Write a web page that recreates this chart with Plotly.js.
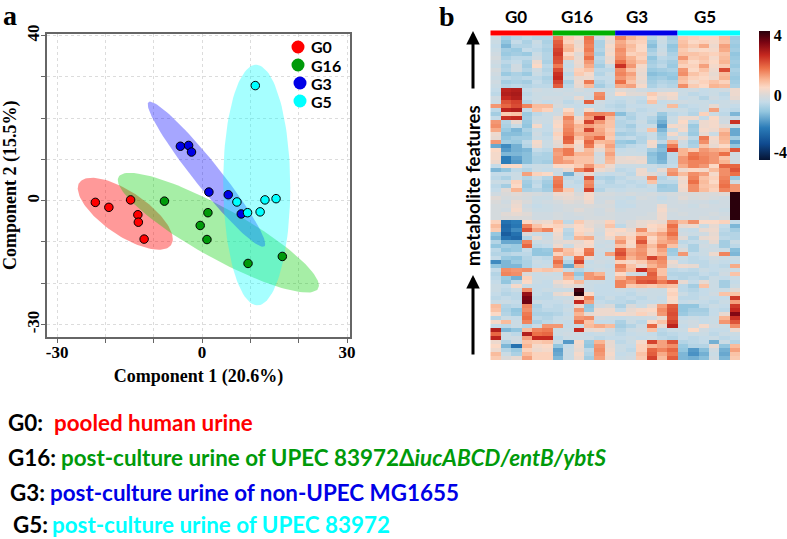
<!DOCTYPE html>
<html><head><meta charset="utf-8">
<script src="https://cdn.plot.ly/plotly-3.0.1.min.js"></script>
<style>html,body{margin:0;padding:0;background:#fff}#c{width:787px;height:539px}</style>
</head><body><div id="c"></div>
<script>
const groups = ['G0','G16','G3','G5'];
const scoreColors = ['#ff0000','#009a0a','#0000e6','#00ffff'];
const barColors = ['#ff0000','#00b000','#0000e6','#00ffff'];
const ellipseFills = ['rgba(255,0,0,0.4)','rgba(0,205,0,0.35)','rgba(0,0,255,0.35)','rgba(0,255,255,0.35)'];

const comp1G0 = [-22.1,-19.3,-14.8,-13.3,-13.2,-12.0];
const comp2G0 = [-0.4,-1.6,0.2,-3.4,-5.2,-9.3];
const comp1G16 = [-7.8,1.2,-0.4,1.0,9.5,16.6];
const comp2G16 = [-0.1,-2.9,-6.0,-9.4,-15.2,-13.5];
const comp1G3 = [-4.5,-2.8,-2.2,1.4,5.4,8.1];
const comp2G3 = [13.2,13.4,11.8,2.1,1.45,-3.2];
const comp1G5 = [11.0,7.2,13.0,15.3,12.0,9.4];
const comp2G5 = [27.9,-0.3,0.2,0.5,-2.7,-2.9];

// ellipse summary per group: centre, half extents along each axis, correlation
const ellipseCx = [-15.9,3.35,0.9,11.3];
const ellipseCy = [-3.15,-7.75,6.42,3.8];
const ellipseAx = [9.83,20.8,12.15,6.94];
const ellipseAy = [8.72,14.5,17.6,29.15];
const ellipseRho = [-0.705,-0.88,-0.96,-0.02];

const xTickVals = [-30,-20,-10,0,10,20,30];
const xTickText = ['-30','','','0','','','30'];
const yTickVals = [-30,-20,-10,0,10,20,30,40];
const yTickText = ['-30','','','0','','','','40'];

const captionLabels = ['G0:','G16:','G3:','G5:'];
const captionTexts = ['pooled human urine','post-culture urine of UPEC 83972Δ<i>iucABCD/entB/ybtS</i>','post-culture urine of non-UPEC MG1655','post-culture urine of UPEC 83972'];

// heatmap: 81 rows x 24 samples, values in tenths of a unit
const heatRows = [
[-2,-8,-6,-5,-6,-6,16,7,4,17,-3,3,15,10,7,-6,-2,-8,7,6,5,5,9,-9],
[-3,-10,-4,-7,-3,-7,19,6,2,16,-7,2,11,7,6,-9,-3,-7,8,5,6,4,8,-8],
[-4,-12,-6,-6,-4,-6,20,9,3,15,-7,4,12,9,5,-11,-4,-10,9,7,11,3,12,-9],
[-3,-8,-9,-4,-5,-7,22,10,4,16,-6,3,14,8,5,-8,-3,-9,7,4,5,4,11,-8],
[-2,-9,-8,-9,-3,-6,23,5,1,14,-8,4,13,6,7,-6,-2,-7,8,8,7,6,8,-10],
[-1,-7,-5,-5,-2,-6,21,8,2,17,-5,2,14,10,6,-10,-5,-6,13,7,8,4,9,-9],
[-2,-5,-4,-7,3,-7,20,-3,3,13,-6,3,17,11,8,-8,-6,-8,8,5,7,5,10,-8],
[-3,-7,-2,-8,5,-5,16,-4,2,11,-8,-3,24,13,4,-7,-5,-9,6,6,12,4,7,-9],
[-1,-6,-2,-6,-2,-6,21,-2,6,8,-5,-5,14,8,3,-9,-8,-7,13,5,8,3,21,-7],
[-2,-9,-7,-9,-3,-5,24,-5,7,4,-6,-3,15,12,2,-11,-10,-9,14,8,6,2,9,-8],
[-3,-5,-6,-5,-5,-7,25,-3,2,3,-4,-4,13,10,3,-9,-8,-10,9,6,5,3,10,-9],
[-2,-8,-7,-8,-4,-6,22,-7,3,16,-6,-4,17,8,2,-8,-6,-7,8,4,6,8,6,-8],
[-3,-6,-5,-6,-5,-5,19,-5,2,9,-8,-5,11,12,4,-7,-5,-6,14,7,5,10,9,-7],
[-4,26,27,-4,-2,-3,-2,-3,-1,-3,-2,-3,1,0,-2,-4,-2,-2,-3,-2,-4,-3,-2,3],
[-5,27,28,-5,-3,-3,-3,-2,-3,-2,14,-2,5,1,1,7,3,4,-3,-5,-4,-3,-5,3],
[-2,25,27,-4,-3,-2,-2,-3,2,-3,15,-3,-4,-3,-4,5,1,3,-4,-3,-6,-2,-4,2],
[-3,20,22,-6,-2,-4,-2,-5,-3,19,-2,-4,-5,-3,-5,8,-4,-3,-2,-3,-3,-4,-3,-2],
[13,18,21,15,9,9,-1,-3,-4,-4,-3,-5,-6,-4,-4,-3,-3,9,-5,-4,-3,2,-3,-4],
[-5,26,27,-4,8,6,-3,5,-3,4,-3,-4,-5,-3,-5,-4,-2,-3,-3,-5,-3,12,-4,-5],
[-8,7,8,-9,-5,-3,-2,8,-3,15,15,14,-11,-6,-4,-3,-9,-5,-4,-6,6,-3,-5,-12],
[-4,24,25,-8,-3,-3,2,15,3,12,26,9,-5,-7,-4,-6,-11,-3,3,3,-4,5,-2,-4],
[13,-6,2,-9,-2,-3,4,13,6,22,13,8,-6,-5,-3,-7,-13,-3,5,-5,3,4,-2,24],
[14,-7,-3,-10,4,-4,5,14,10,12,10,8,-6,-8,-4,-3,-16,4,3,-9,3,4,1,-3],
[11,-9,-12,-7,-3,-4,3,15,9,22,11,7,-5,-6,-3,8,-12,-3,4,-8,4,3,8,-14],
[3,-11,-11,-9,-2,-5,6,16,11,12,12,8,-8,-7,-5,-3,-9,4,-3,-9,2,-3,11,-14],
[2,-10,-8,-8,-3,-4,4,19,8,14,18,7,-5,-4,-6,-3,-8,-2,2,-5,16,4,10,-8],
[13,-8,-9,-5,4,-3,2,18,5,18,9,10,-9,-10,-6,4,-5,10,-2,-8,14,3,9,-15],
[-14,-18,-13,-6,3,-3,1,8,3,16,6,12,-7,-5,-4,3,-12,16,-3,-7,8,2,5,-10],
[5,-16,-13,-12,-4,-5,13,16,3,9,2,10,-4,-3,-4,-8,-11,22,10,7,13,11,10,20],
[4,-12,-12,-11,-6,-7,12,16,10,10,-2,12,-3,-3,-3,-11,-13,-5,10,16,14,13,17,-2],
[4,-20,-15,-11,-7,-7,13,9,8,8,-1,10,2,3,2,-10,-13,-5,13,17,15,13,8,-2],
[3,-20,-16,-11,-7,-8,13,12,8,8,-1,9,2,2,3,-10,-12,-5,13,15,15,13,10,-2],
[-4,5,5,-4,-3,-3,5,5,7,13,7,3,-3,-3,-3,-3,-5,-4,11,15,13,5,18,18],
[-12,-10,-5,-6,-3,-4,-2,2,15,20,3,1,-5,-4,3,-4,2,12,3,5,4,9,14,20],
[-4,-4,-3,12,6,5,-3,-13,-2,3,-3,-4,-3,-5,3,1,-2,14,9,14,12,4,14,17],
[-5,-7,-3,-6,-3,-6,15,-5,-4,20,-6,-7,-5,-3,-2,14,-6,-3,4,15,8,6,15,-9],
[-3,-3,6,-8,-5,-8,16,-3,-5,14,-4,-6,-4,-5,-4,8,-5,-5,3,17,9,5,16,-2],
[-5,-8,5,-9,-4,-9,17,-4,-4,15,-5,-5,-5,-4,-5,-3,-9,-8,4,14,8,7,17,13],
[-4,1,10,-7,-6,-8,15,7,-3,22,-6,-3,-4,-3,-3,-4,-8,-8,3,14,9,6,15,13],
[-2,0,1,0,-1,-2,3,3,0,4,-1,-1,-2,-1,-2,-1,-2,-1,0,0,0,0,1,40],
[1,-1,0,-1,-3,-3,1,2,1,4,-2,-2,-3,-4,-1,-2,-4,-2,1,-1,0,-1,-2,40],
[0,-2,2,0,-3,-2,-1,1,0,3,-2,0,-4,-3,-2,-2,-3,-2,-1,-2,-2,-3,-2,40],
[-1,-1,3,-2,-4,-3,-2,-1,-1,0,-1,-1,-4,-4,-2,-2,3,-2,-2,-3,-1,-2,-2,40],
[-1,-2,4,-1,-3,-3,-2,-1,1,-1,-2,0,-3,-2,-2,-2,4,-1,-2,-2,-2,-2,-3,40],
[-1,1,2,1,-2,-2,-1,-2,-1,-1,-2,-1,-2,-2,-2,-1,3,-2,-1,-2,-2,-1,-2,40],
[-1,0,0,0,-2,-2,-1,-2,-2,-1,-1,-1,-2,-2,-1,-1,3,-2,-2,-2,-1,-2,-1,40],
[6,-22,-20,5,2,3,8,-5,7,2,1,6,-2,0,2,3,2,13,9,14,5,5,6,-4],
[9,-24,-21,15,8,5,6,2,5,2,0,8,-5,0,2,5,6,17,2,3,-3,2,-4,-12],
[7,-23,-18,20,12,15,5,-5,5,4,-1,4,5,2,14,4,7,15,-3,-4,2,3,-5,-8],
[-10,-26,-22,0,-3,-4,3,-6,6,2,-2,5,3,4,8,9,12,17,-2,-3,-2,2,-6,-6],
[-12,-22,-24,-6,2,-3,2,-5,10,11,-1,3,10,6,16,5,10,14,1,-6,2,3,-5,-6],
[-6,-14,-14,15,-3,-2,1,2,2,5,-2,-3,13,5,20,6,11,12,-5,-4,-3,2,-8,-3],
[-10,-8,-9,18,-5,-4,3,-3,3,4,-3,-2,8,4,14,9,15,8,-3,-7,-2,-3,-8,-5],
[-5,-10,-9,-4,-10,-9,13,8,5,16,-2,-3,19,11,13,7,12,-9,0,-7,-3,-2,-3,-11],
[-6,-6,-5,-5,-10,-10,6,9,6,17,-3,12,21,12,14,7,10,-8,13,-4,-3,3,15,-12],
[-4,-9,-10,-6,-4,-5,13,-3,17,2,-3,-2,17,10,13,22,15,-4,-3,-5,-4,-2,-3,-3],
[-18,-12,-9,-7,-3,-4,17,-6,22,-4,-2,-3,6,4,7,12,14,3,-4,-5,-5,-3,-4,-4],
[-10,-12,-12,-7,-4,-3,14,-14,10,-3,-3,-4,15,8,3,10,13,1,3,2,-5,-4,-5,11],
[-4,14,13,14,7,8,7,-4,-6,-4,-2,-3,13,9,25,16,8,-5,-4,-5,-3,-4,-3,-3],
[-6,15,14,0,-3,-2,-3,12,-10,13,10,-3,5,-2,-3,19,8,-6,-6,-6,-4,-5,-2,8],
[-5,-9,-13,6,-3,-3,-2,10,-6,13,14,-3,10,15,18,18,12,-5,-6,-5,-6,-3,-4,-3],
[-4,-10,-5,5,-3,-4,3,5,9,-3,-3,-4,15,13,20,21,16,20,2,-4,2,-3,-8,-4],
[-3,-4,4,-3,-4,-4,0,2,1,-3,-4,-4,15,7,8,7,9,8,-5,-8,8,-3,-8,-3],
[-3,-5,-3,14,-4,-3,-3,-3,37,-3,-4,-4,-3,-4,-2,-3,-3,5,-5,-6,-4,-3,-3,1],
[-4,-6,-5,30,-4,-5,2,4,40,5,-4,-4,-4,-5,-3,-3,-3,6,-3,-5,-4,-2,8,8],
[-5,-4,-5,33,-5,-5,-3,-3,5,15,-5,-3,-5,-4,-5,-3,-4,5,-5,-5,-3,-4,-4,23],
[-3,-3,-4,34,-3,-4,-4,-2,25,12,-4,-5,-5,-6,-4,-4,-3,4,-4,-3,-4,-5,-3,12],
[9,-6,-5,15,-7,-4,-5,-4,3,-10,-2,0,-7,0,-3,2,12,19,-10,-10,-5,-3,-4,23],
[8,-7,-10,14,-6,-5,-5,-3,13,-9,3,3,-4,2,4,5,14,20,-10,-8,-8,-4,-5,25],
[5,-6,-9,16,-7,-7,-6,-4,10,2,3,3,4,3,6,3,13,21,-9,-7,-7,-4,2,32],
[-6,-3,-4,17,-5,-6,-4,-3,13,14,-2,-3,-4,-3,-3,-2,2,20,-4,-3,-4,-3,10,24],
[4,9,-3,15,-7,-5,-3,-4,18,8,-4,-4,-7,-3,-5,5,8,22,-3,-2,-4,-3,13,20],
[-4,-5,-3,-6,-3,13,13,-4,-3,9,11,9,-8,-6,-3,18,2,26,-4,-2,4,-2,-3,14],
[27,-12,-10,9,15,16,-3,-3,25,2,3,-2,-6,-3,-2,8,-5,-3,-3,5,-2,-4,-4,3],
[18,-3,-5,27,17,18,-3,-2,-2,-4,-3,-3,-5,-4,-3,-4,-6,-5,-4,-3,-3,-5,-3,-3],
[26,-3,-2,12,25,25,-5,-3,-3,-3,-5,-4,-4,-3,-4,-3,-5,-6,-4,-5,-4,-3,-5,-4],
[3,-6,-2,8,7,8,-3,-16,4,-9,10,2,-5,-3,4,22,12,20,-6,-5,-4,-13,-3,-6],
[5,-12,-22,10,4,5,-10,-4,3,-10,13,2,-3,-4,6,10,12,14,-9,-6,-6,2,-10,9],
[3,-6,-9,6,3,4,-15,-3,2,-5,14,3,-3,-5,6,18,15,18,-10,-16,-11,-2,-13,12],
[9,-3,-7,9,6,6,-14,-3,4,-6,13,4,-4,-3,8,19,11,16,-12,-17,-13,-3,-14,8],
[7,0,2,12,6,6,-12,-3,3,-8,12,3,-3,-2,7,22,9,19,-12,-13,-11,-2,-12,7]
];

const W = 787, H = 539;
const px = v => v / W, py = v => 1 - v / H;
const serif = 'Liberation Serif, serif';
const sans = 'Lato, sans-serif';

const comp1 = [comp1G0, comp1G16, comp1G3, comp1G5];
const comp2 = [comp2G0, comp2G16, comp2G3, comp2G5];

const traces = [];
groups.forEach((g, i) => {
  const ex = [], ey = [];
  for (let k = 0; k <= 120; k++) {
    const t = k / 120 * 2 * Math.PI;
    ex.push(ellipseCx[i] + ellipseAx[i] * Math.cos(t));
    ey.push(ellipseCy[i] + ellipseAy[i] * Math.cos(t - Math.acos(ellipseRho[i])));
  }
  traces.push({x: ex, y: ey, type: 'scatter', mode: 'lines', fill: 'toself', fillcolor: ellipseFills[i],
    line: {width: 0, color: 'rgba(0,0,0,0)'}, hoverinfo: 'skip', showlegend: false, xaxis: 'x', yaxis: 'y'});
});
groups.forEach((g, i) => {
  traces.push({x: comp1[i], y: comp2[i], type: 'scatter', mode: 'markers', name: g, showlegend: false,
    marker: {size: 8.5, color: scoreColors[i], line: {color: '#000', width: 1}}, xaxis: 'x', yaxis: 'y'});
});
traces.push({
  z: heatRows.map(r => r.map(v => v / 10)), type: 'heatmap', xaxis: 'x2', yaxis: 'y2',
  zmin: -4, zmax: 4, showlegend: false,
  colorscale: [[0,'#061433'],[0.125,'#0f4a8f'],[0.25,'#2b7cb8'],[0.375,'#93c6df'],[0.45,'#c5dbe8'],[0.5,'#d9d9d9'],
    [0.5625,'#fbd9c6'],[0.625,'#f9b593'],[0.7125,'#ec7048'],[0.8125,'#c5281f'],[0.9125,'#7a0412'],[1,'#2a000c']],
  colorbar: {x: px(758.5), xanchor: 'left', y: py(95.5), yanchor: 'middle', thickness: 10.5, thicknessmode: 'pixels',
    len: 129, lenmode: 'pixels', xpad: 0, ypad: 0, outlinewidth: 0, tickmode: 'array', tickvals: [-3.5,0,3.7], ticktext: ['-4','0','4'],
    ticklen: 0, ticks: '', tickfont: {family: serif, size: 16, color: '#000', weight: 'bold'}}
});

const annotations = [];
const addText = (text, x, y, size, family, color, extra) => annotations.push(Object.assign({
  text, x: px(x), y: py(y), xref: 'paper', yref: 'paper', showarrow: false, xanchor: 'left', yanchor: 'middle',
  font: {family, size, color}}, extra || {}));
addText('<b>a</b>', 1, 15, 28, serif, '#000');
addText('<b>b</b>', 437, 17, 28, serif, '#000');
const groupLabelCols = [2.0, 7.8, 13.6, 20.1];
groups.forEach((g, i) => annotations.push({
  text: '<b>' + g + '</b>', x: groupLabelCols[i], xref: 'x2', y: py(17), yref: 'paper', showarrow: false,
  xanchor: 'center', yanchor: 'middle', font: {family: sans, size: 17, color: '#000'}}));
addText('<b>metabolite features</b>', 473, 186, 18.5, sans, '#000', {textangle: -90, xanchor: 'center'});
[[473, 90, 31], [473, 356, 275]].forEach(a => annotations.push({
  x: px(a[0]), y: py(a[2]), xref: 'paper', yref: 'paper', ax: 0, ay: a[1] - a[2], axref: 'pixel', ayref: 'pixel',
  text: '', showarrow: true, arrowhead: 2, arrowsize: 0.9, arrowwidth: 3, arrowcolor: '#000'}));

// colour key inside panel a
const legendDotX = [298, 298, 300, 300];
const legendDotY = [47, 65, 83, 101];
const legendTextX = [309, 309, 309, 309];
groups.forEach((g, i) => addText('<b>' + g + '</b>', legendTextX[i], legendDotY[i], 16, sans, '#000'));

const captionY = [422, 457, 492, 524.5];
const captionLabelX = [6, 6, 8, 11];
const captionTextX = [52, 59, 48, 50];
groups.forEach((g, i) => {
  addText('<b>' + captionLabels[i] + '</b>', captionLabelX[i], captionY[i], 22.4, sans, '#000');
  addText('<b>' + captionTexts[i] + '</b>', captionTextX[i], captionY[i], 22.4, sans, scoreColors[i]);
});

const shapes = groups.map((g, i) => ({
  type: 'rect', xref: 'x2', yref: 'paper', x0: -0.5 + 6 * i, x1: 5.5 + 6 * i, y0: py(35.5), y1: py(30.5),
  fillcolor: barColors[i], line: {width: 0}}));
groups.forEach((g, i) => shapes.push({
  type: 'circle', xref: 'paper', yref: 'paper', x0: px(legendDotX[i] - 6.5), x1: px(legendDotX[i] + 6.5),
  y0: py(legendDotY[i] + 6.5), y1: py(legendDotY[i] - 6.5), fillcolor: scoreColors[i], line: {width: 0}}));

const axisFrame = {showline: true, mirror: true, linecolor: '#666', linewidth: 2, ticks: 'outside', ticklen: 4,
  tickcolor: '#666', tickwidth: 1, showgrid: true, gridcolor: '#dcdcdc', griddash: 'dot', gridwidth: 1, zeroline: false,
  tickmode: 'array', ticklabelstandoff: -5, tickfont: {family: serif, size: 17, color: '#000', weight: 'bold'}};

const layout = {
  width: W, height: H, margin: {l: 0, r: 0, t: 0, b: 0}, paper_bgcolor: '#fff', plot_bgcolor: '#fff',
  font: {family: sans}, shapes, annotations, hovermode: 'closest', showlegend: false,
  xaxis: Object.assign({}, axisFrame, {domain: [px(47), px(350)], range: [-32.1, 30.6], anchor: 'y',
    tickvals: xTickVals, ticktext: xTickText, tickangle: 0, automargin: false,
    title: {text: '\u00a0\u00a0<b>Component 1 (20.6%)</b>', standoff: 8, font: {family: serif, size: 18, color: '#000'}}}),
  yaxis: Object.assign({}, axisFrame, {domain: [py(336.5), py(34)], range: [-32.9, 40.4], anchor: 'x',
    tickvals: yTickVals, ticktext: yTickText, tickangle: -90, automargin: false,
    title: {text: '\u00a0\u00a0\u00a0<b>Component 2 (15.5%)</b>', standoff: 10, font: {family: serif, size: 18, color: '#000'}}}),
  xaxis2: {domain: [px(490.3), px(740)], range: [-0.5, 23.5], anchor: 'y2', visible: false},
  yaxis2: {domain: [py(360), py(36)], range: [80.5, -0.5], anchor: 'x2', visible: false}
};
Plotly.newPlot('c', traces, layout, {displayModeBar: false});
</script>
</body></html>
